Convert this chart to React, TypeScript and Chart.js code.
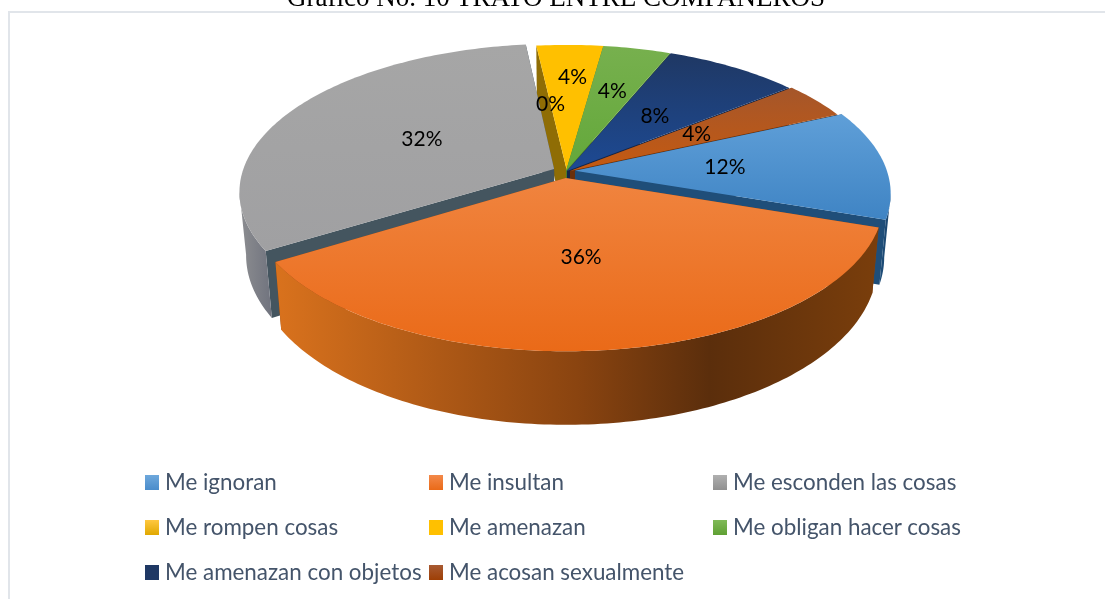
import React, { useEffect, useRef } from "react";
import { Chart, registerables } from "chart.js";

Chart.register(...registerables);

const categories = [
  "Me ignoran",
  "Me insultan",
  "Me esconden las cosas",
  "Me rompen cosas",
  "Me amenazan",
  "Me obligan hacer cosas",
  "Me amenazan con objetos",
  "Me acosan sexualmente",
];
const percentages = [12, 36, 32, 0, 4, 4, 8, 4];

const sliceOffsets = [7, 15, 20, 0, 0, 0, 0, 0];
const sliceNudgeX = [-4, -8, 0, -5, -5, -6, -5, -2];
const sliceNudgeY = [0, 0, 2, 0, 0, 0, 0, 0];
const labelRadii = [0.47, 0.5, 0.49, 0.5, 0.72, 0.62, 0.5, 0.5];
const labelNudgeX = [4, -4, 0, 0, 3, 0, 0, -1];
const topLight = ["#5f9fd8", "#f0843f", "#a6a6a6", "#ffc000", "#ffc000", "#77b04e", "#1f3864", "#a5562a"];
const topDark = ["#3f84c4", "#ea6a18", "#a0a0a2", "#f0b400", "#ffc000", "#63a83a", "#1d4a94", "#c55a11"];
const faceColors = ["#1f4e79", "#8a4510", "#44555f", "#8f6d05", "#8f6d05", "#4c7a2c", "#14264a", "#6a300a"];
const wallStops: string[][] = [
  ["#1f4e79", "#1c4770"],
  ["#d9721d", "#8a4410", "#5b2e0c", "#7a3e0c"],
  ["#8d8e91", "#70737e"],
  ["#8f6d05", "#8f6d05"],
  ["#8f6d05", "#8f6d05"],
  ["#4c7a2c", "#4c7a2c"],
  ["#14264a", "#14264a"],
  ["#6a300a", "#6a300a"],
];
const legendSwatches = [
  "linear-gradient(#6ea8dc,#4a8ccb)",
  "linear-gradient(#f3894a,#ea6a18)",
  "linear-gradient(#b0b0b0,#909090)",
  "linear-gradient(#ffc840,#e0a800)",
  "linear-gradient(#ffc000,#ffc000)",
  "linear-gradient(#80ba58,#5fa033)",
  "linear-gradient(#1f3864,#1f3864)",
  "linear-gradient(#a85a32,#9e3f05)",
];

const RADIUS = 312;
const FLATTEN = 145;
const PERSPECTIVE = 0.15;
const DEPTH = 62;
const BOTTOM_SHRINK = 0.98;
const ROTATION = 65.5;

const pseudo3d = {
  id: "pseudo3d",
  beforeDatasetsDraw(chart: any) {
    const ctx: CanvasRenderingContext2D = chart.ctx;
    const arcs = chart.getDatasetMeta(0).data as any[];
    const order = arcs
      .map((a, i) => ({ a, i, mid: (a.startAngle + a.endAngle) / 2 }))
      .sort((p, q) => Math.sin(p.mid) - Math.sin(q.mid));

    const project = (a: any, i: number, mid: number, r: number, ang: number, low: boolean) => {
      const off = sliceOffsets[i];
      const u = r * Math.cos(ang) + (off * Math.cos(mid)) / RADIUS;
      const v = r * Math.sin(ang) + (off * Math.sin(mid)) / RADIUS;
      const den = 1 - PERSPECTIVE * v;
      const sx = (RADIUS * u) / den;
      return {
        x: a.x + sliceNudgeX[i] + sx * (low ? BOTTOM_SHRINK : 1),
        y: a.y + sliceNudgeY[i] + (FLATTEN * v) / den + (low ? DEPTH / den : 0),
      };
    };
    const poly = (pts: { x: number; y: number }[], fill: any) => {
      ctx.beginPath();
      pts.forEach((p, i) => (i ? ctx.lineTo(p.x, p.y) : ctx.moveTo(p.x, p.y)));
      ctx.closePath();
      ctx.fillStyle = fill;
      ctx.fill();
    };

    ctx.save();
    for (const { a, i, mid } of order) {
      const start = a.startAngle;
      const end = a.endAngle;
      if (end - start < 1e-6) continue;
      const P = (r: number, ang: number, low: boolean) => project(a, i, mid, r, ang, low);
      const steps = Math.max(2, Math.ceil(((end - start) * 180) / Math.PI));
      const angles: number[] = [];
      for (let s = 0; s <= steps; s++) angles.push(start + ((end - start) * s) / steps);

      poly([P(0, 0, false), P(1, start, false), P(1, start, true), P(0, 0, true)], faceColors[i]);
      poly([P(0, 0, false), P(1, end, false), P(1, end, true), P(0, 0, true)], faceColors[i]);

      const visible = angles.filter((t) => Math.sin(t) >= PERSPECTIVE);
      if (visible.length > 1) {
        const tops = visible.map((t) => P(1, t, false));
        const lows = visible.map((t) => P(1, t, true));
        const all = tops.concat(lows.slice().reverse());
        const xs = all.map((p) => p.x);
        const g = ctx.createLinearGradient(Math.min(...xs), 0, Math.max(...xs), 0);
        const st = wallStops[i];
        const pos = st.length === 4 ? [0, 0.5, 0.72, 1] : [0, 1];
        st.forEach((c, k) => g.addColorStop(pos[k], c));
        poly(all, g);
      }

      const top = [P(0, 0, false), ...angles.map((t) => P(1, t, false))];
      const ys = top.map((p) => p.y);
      const tg = ctx.createLinearGradient(0, Math.min(...ys), 0, Math.max(...ys));
      tg.addColorStop(0, topLight[i]);
      tg.addColorStop(1, topDark[i]);
      poly(top, tg);
    }

    ctx.fillStyle = "#000000";
    ctx.font = "21px Lato";
    ctx.textAlign = "center";
    ctx.textBaseline = "middle";
    arcs.forEach((a, i) => {
      const mid = (a.startAngle + a.endAngle) / 2;
      const p = project(a, i, mid, labelRadii[i], mid, false);
      ctx.fillText(`${percentages[i]}%`, p.x + labelNudgeX[i], p.y);
    });
    ctx.restore();
    return false;
  },
};

const LEGEND_X = [145, 429, 713];
const LEGEND_Y = [482, 527, 572];

export default function App() {
  const ref = useRef<HTMLCanvasElement>(null);
  useEffect(() => {
    if (!ref.current) return;
    const chart = new Chart(ref.current, {
      type: "pie",
      data: {
        labels: categories,
        datasets: [{ data: percentages, backgroundColor: topLight, borderWidth: 0 }],
      },
      options: {
        responsive: false,
        animation: false,
        rotation: ROTATION,
        layout: { padding: { left: 39, right: 0, top: 0, bottom: 257 } },
        plugins: { legend: { display: false }, tooltip: { enabled: false }, title: { display: false } },
      },
      plugins: [pseudo3d],
    } as any);
    return () => chart.destroy();
  }, []);

  return (
    <div style={{ position: "fixed", left: 0, top: 0, width: 1105, height: 599, overflow: "hidden", background: "#fff" }}>
      <canvas ref={ref} width={1105} height={599} style={{ position: "absolute", left: 0, top: 0 }} />
      <div style={{ position: "absolute", left: 8, top: 11, right: 0, height: 2, background: "#e1e5ea" }} />
      <div style={{ position: "absolute", left: 8, top: 11, bottom: 0, width: 2, background: "#e1e5ea" }} />
      <div
        style={{
          position: "absolute",
          left: 0,
          width: 1112,
          top: -18,
          textAlign: "center",
          font: "27px 'Liberation Serif'",
          color: "#000",
          whiteSpace: "nowrap",
        }}
      >
        Gráfico No. 10 TRATO ENTRE COMPAÑEROS
      </div>
      {categories.map((c, i) => (
        <div key={c}>
          <div
            style={{
              position: "absolute",
              left: LEGEND_X[i % 3],
              top: LEGEND_Y[Math.floor(i / 3)] - 7,
              width: 14,
              height: 15,
              background: legendSwatches[i],
            }}
          />
          <div
            style={{
              position: "absolute",
              left: LEGEND_X[i % 3] + 20,
              top: LEGEND_Y[Math.floor(i / 3)] - 15,
              font: "22.4px/30px Lato",
              color: "#44546a",
              whiteSpace: "nowrap",
            }}
          >
            {c}
          </div>
        </div>
      ))}
    </div>
  );
}
